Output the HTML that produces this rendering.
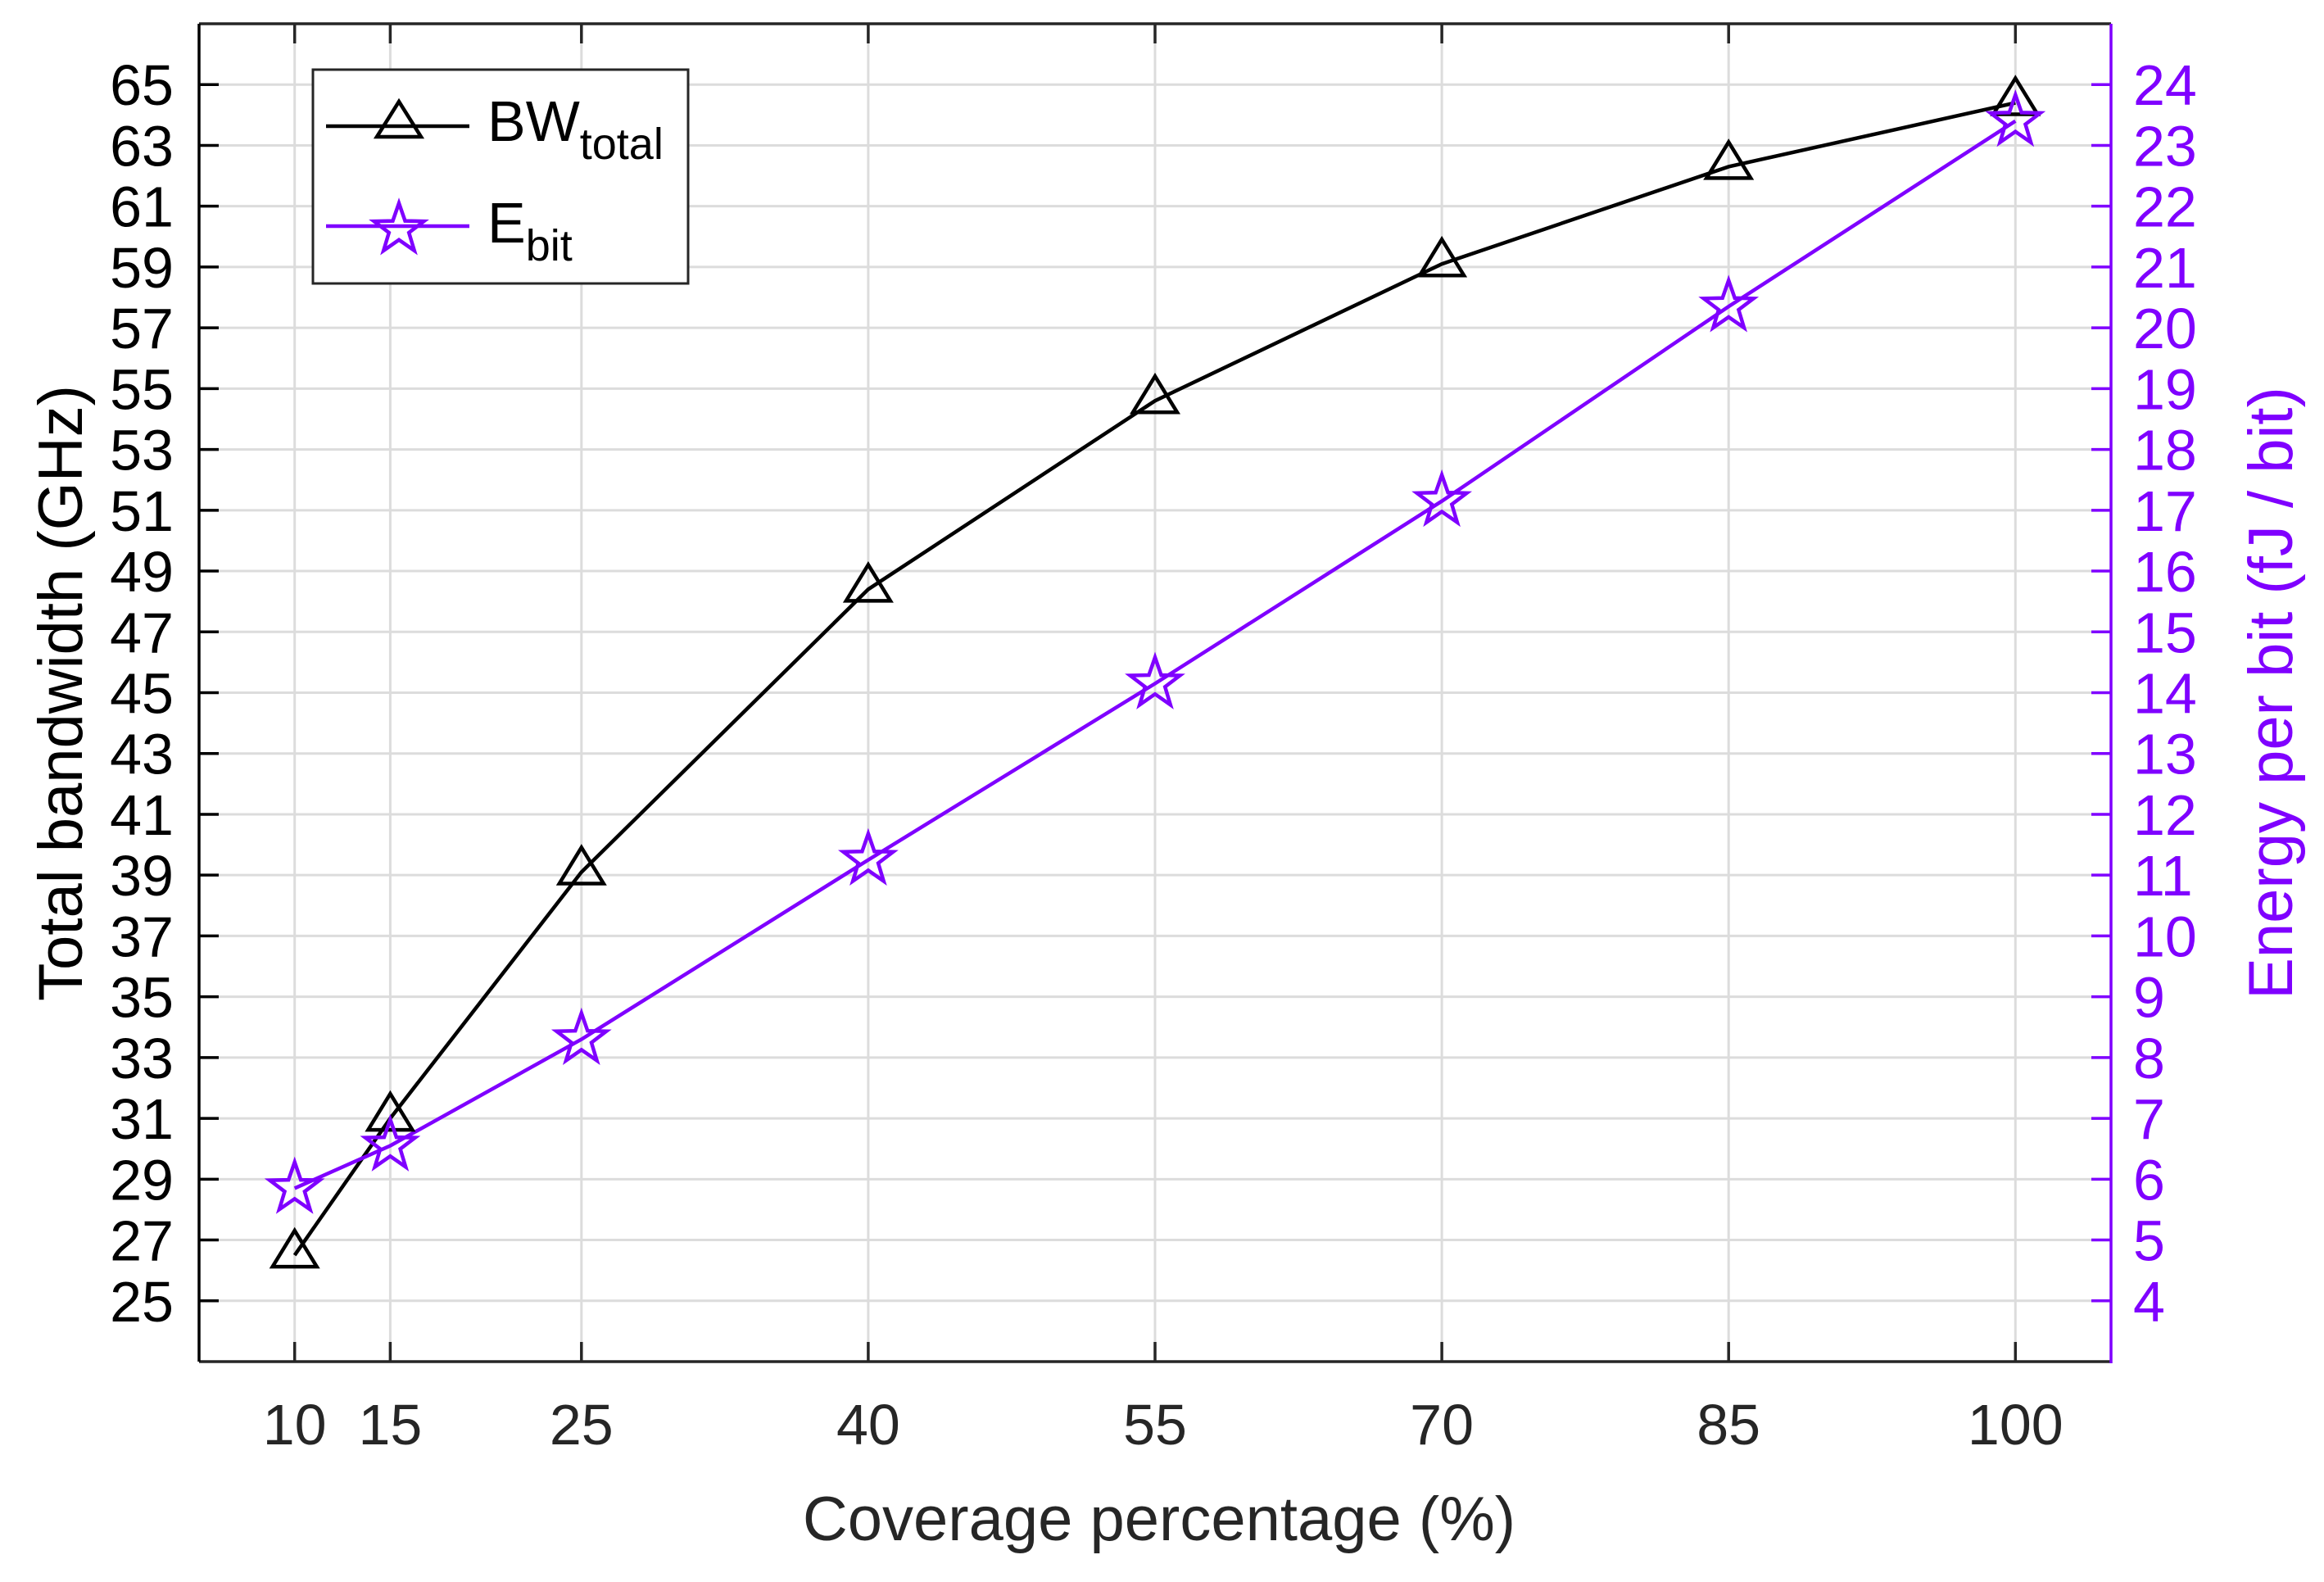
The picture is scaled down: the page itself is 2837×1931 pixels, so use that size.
<!DOCTYPE html>
<html><head><meta charset="utf-8"><style>
html,body{margin:0;padding:0;background:#fff}
svg{display:block;font-family:"Liberation Sans",Arial,sans-serif}
</style></head><body>
<svg id="chart" width="2837" height="1931" viewBox="0 0 2837 1931" xmlns="http://www.w3.org/2000/svg">
<rect x="0" y="0" width="2837" height="1931" fill="#fff"/>
<g id="grid"></g>
<g id="axes"></g>
<g id="series"></g>
<text x="1415" y="1880" font-size="76" fill="#262626" text-anchor="middle">Coverage percentage (%)</text>
<text transform="translate(100,846) rotate(-90)" font-size="76" fill="#000" text-anchor="middle">Total bandwidth (GHz)</text>
<text transform="translate(2798,846) rotate(-90)" font-size="76" fill="#7f00ff" text-anchor="middle">Energy per bit (fJ / bit)</text>
<g id="legend">
<rect x="382" y="85" width="458" height="261" fill="#fff" stroke="#262626" stroke-width="3"/>
<g>
<line x1="398" y1="154" x2="573" y2="154" stroke="#000" stroke-width="4.5"/>
<polygon points="487,124 514,167 460,167" fill="none" stroke="#000" stroke-width="4.5"/>
<text x="595" y="172" font-size="70" fill="#000">BW<tspan font-size="54" dy="22">total</tspan></text>
</g>
<g>
<line x1="398" y1="276" x2="573" y2="276" stroke="#7f00ff" stroke-width="4.5"/>
<polygon id="legstar" fill="none" stroke="#7f00ff" stroke-width="4.5"/>
<text x="595" y="296" font-size="70" fill="#000">E<tspan font-size="54" dy="22">bit</tspan></text>
</g>
</g>
</svg>
<script>
const xCategories=[10,15,25,40,55,70,85,100];
const bwValues=[26.5,31.0,39.1,48.4,54.6,59.1,62.3,64.4];
const ebitValues=[5.85,6.55,8.3,11.25,14.15,17.15,20.35,23.4];
const leftTicks=[25,27,29,31,33,35,37,39,41,43,45,47,49,51,53,55,57,59,61,63,65];
const rightTicks=[4,5,6,7,8,9,10,11,12,13,14,15,16,17,18,19,20,21,22,23,24];
const xTicks=[10,15,25,40,55,70,85,100];
{
const L=243,R=2577,T=29,B=1662;
const xs=v=>L+(v-5)/100*(R-L);
const yl=v=>B-(v-23)/44*(B-T);
const yr=v=>B-(v-3)/22*(B-T);
const NS='http://www.w3.org/2000/svg';
function mk(tag,attrs,parent){const e=document.createElementNS(NS,tag);for(const k in attrs)e.setAttribute(k,attrs[k]);parent.appendChild(e);return e;}
const grid=document.getElementById('grid'),axes=document.getElementById('axes'),series=document.getElementById('series');

xTicks.forEach(v=>{const l=mk('line',{x1:xs(v),x2:xs(v),y1:T,y2:B,stroke:'#dcdcdc','stroke-width':3},grid);

});
leftTicks.forEach(v=>{const l=mk('line',{x1:L,x2:R,y1:yl(v),y2:yl(v),stroke:'#dcdcdc','stroke-width':3},grid);

});

const frameTop=mk('line',{x1:L,x2:R,y1:T,y2:T,stroke:'#262626','stroke-width':3.5},axes);


const frameBot=mk('line',{x1:L,x2:R,y1:B,y2:B,stroke:'#262626','stroke-width':3.5},axes);


const frameLeft=mk('line',{x1:L,x2:L,y1:T,y2:B,stroke:'#000','stroke-width':3.5},axes);


const frameRight=mk('line',{x1:R,x2:R,y1:T,y2:B+2,stroke:'#7f00ff','stroke-width':3.5},axes);



xTicks.forEach(v=>{
 mk('line',{x1:xs(v),x2:xs(v),y1:B,y2:B-24,stroke:'#262626','stroke-width':3.5},axes);
 mk('line',{x1:xs(v),x2:xs(v),y1:T,y2:T+24,stroke:'#262626','stroke-width':3.5},axes);
 const t=mk('text',{x:xs(v),y:1763,'font-size':70,fill:'#262626','text-anchor':'middle'},axes);
 t.textContent=v;
 
 
});
leftTicks.forEach(v=>{
 mk('line',{x1:L,x2:L+24,y1:yl(v),y2:yl(v),stroke:'#000','stroke-width':3.5},axes);
 const t=mk('text',{x:212,y:yl(v)+25,'font-size':70,fill:'#000','text-anchor':'end'},axes);
 t.textContent=v;
 
 
});
rightTicks.forEach(v=>{
 mk('line',{x1:R,x2:R-24,y1:yr(v),y2:yr(v),stroke:'#7f00ff','stroke-width':3.5},axes);
 const t=mk('text',{x:2604,y:yr(v)+25,'font-size':70,fill:'#7f00ff','text-anchor':'start'},axes);
 t.textContent=v;
 
 
});

function starPts(cx,cy,r){const p=[];for(let i=0;i<10;i++){const a=-Math.PI/2+i*Math.PI/5;const rr=i%2?r*0.4:r;p.push((cx+rr*Math.cos(a)).toFixed(1)+','+(cy+rr*Math.sin(a)).toFixed(1));}return p.join(' ');}
function triPts(cx,cy){return [cx+','+(cy-30),(cx+27)+','+(cy+14),(cx-27)+','+(cy+14)].join(' ');}

const bwLine=mk('polyline',{points:xCategories.map((c,i)=>xs(c)+','+yl(bwValues[i])).join(' '),fill:'none',stroke:'#000','stroke-width':4.5},series);


const eLine=mk('polyline',{points:xCategories.map((c,i)=>xs(c)+','+yr(ebitValues[i])).join(' '),fill:'none',stroke:'#7f00ff','stroke-width':4.5},series);


xCategories.forEach((c,i)=>{
 const m=mk('polygon',{points:triPts(xs(c),yl(bwValues[i])),fill:'none',stroke:'#000','stroke-width':4.5},series);
 
 
});
xCategories.forEach((c,i)=>{
 const m=mk('polygon',{points:starPts(xs(c),yr(ebitValues[i]),32),fill:'none',stroke:'#7f00ff','stroke-width':4.5},series);
 
 
});
document.getElementById('legstar').setAttribute('points',starPts(487,280,32));
}
</script>
</body></html>
